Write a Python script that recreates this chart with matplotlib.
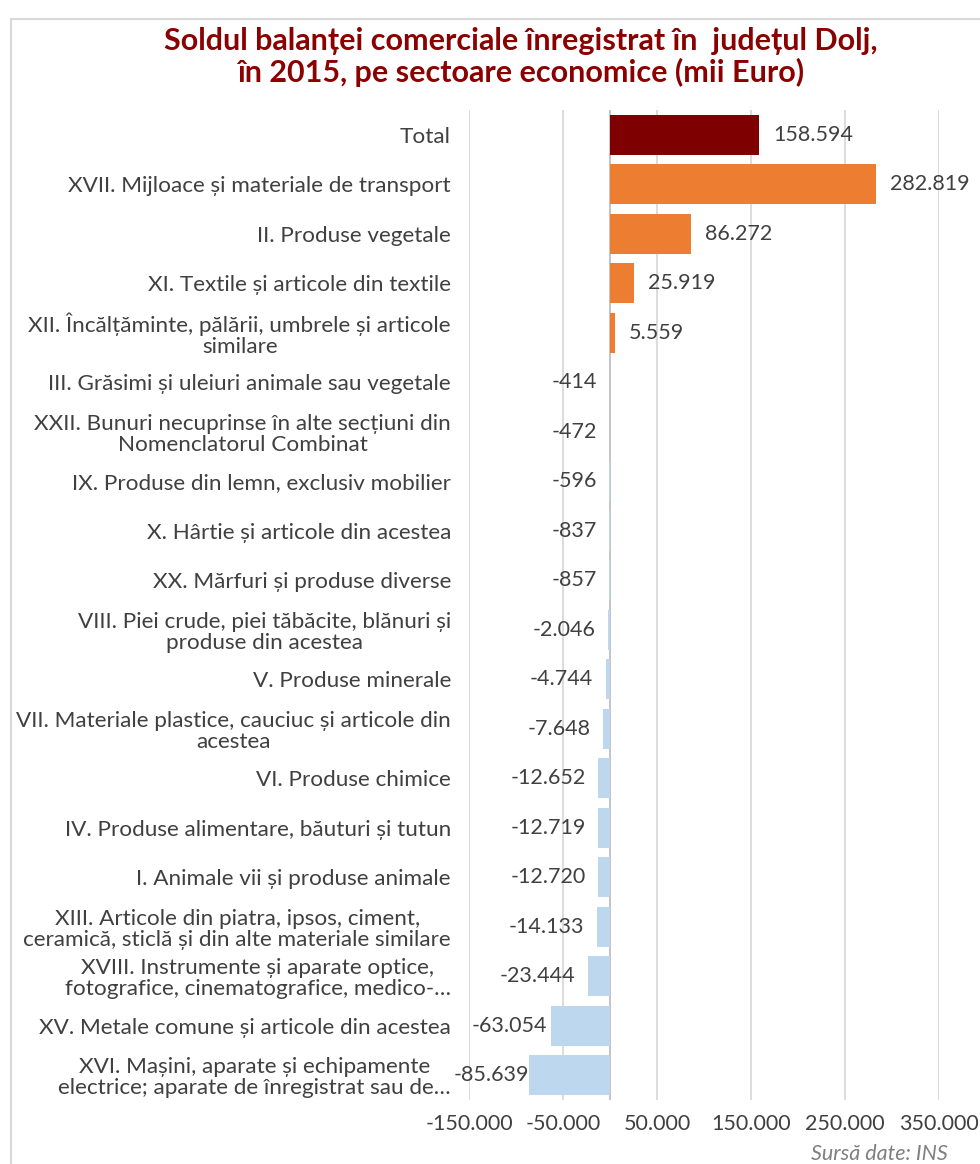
import matplotlib
matplotlib.use("Agg")
import matplotlib.pyplot as plt
from matplotlib.ticker import FuncFormatter, FixedLocator
from matplotlib.patches import Rectangle

plt.rcParams['font.family'] = ['Lato', 'DejaVu Sans']

categories = [
    "Total",
    "XVII. Mijloace și materiale de transport",
    "II. Produse vegetale",
    "XI. Textile și articole din textile",
    "XII. Încălțăminte, pălării, umbrele și articole\nsimilare",
    "III. Grăsimi și uleiuri animale sau vegetale",
    "XXII. Bunuri necuprinse în alte secțiuni din\nNomenclatorul Combinat",
    "IX. Produse din lemn, exclusiv mobilier",
    "X. Hârtie și articole din acestea",
    "XX. Mărfuri și produse diverse",
    "VIII. Piei crude, piei tăbăcite, blănuri și\nproduse din acestea",
    "V. Produse minerale",
    "VII. Materiale plastice, cauciuc și articole din\nacestea",
    "VI. Produse chimice",
    "IV. Produse alimentare, băuturi și tutun",
    "I. Animale vii și produse animale",
    "XIII. Articole din piatra, ipsos, ciment,\nceramică, sticlă și din alte materiale similare",
    "XVIII. Instrumente și aparate optice,\nfotografice, cinematografice, medico-…",
    "XV. Metale comune și articole din acestea",
    "XVI. Mașini, aparate și echipamente\nelectrice; aparate de înregistrat sau de…",
]
values = [158594, 282819, 86272, 25919, 5559, -414, -472, -596, -837, -857,
          -2046, -4744, -7648, -12652, -12719, -12720, -14133, -23444, -63054, -85639]
x_ticks = [-150000, -50000, 50000, 150000, 250000, 350000]

title = "Soldul balanței comerciale înregistrat în  județul Dolj,\nîn 2015, pe sectoare economice (mii Euro)"
source = "Sursă date: INS"

C_TOTAL = "#7F0000"
C_POS = "#ED7D31"
C_NEG = "#BDD7EE"
TXT = "#404040"
FS = 15.5

def fmt(v, pos=None):
    s = f"{abs(int(round(v))):,}".replace(",", ".")
    return ("-" if v < 0 else "") + s

W, H = 980, 1164
fig = plt.figure(figsize=(W / 100, H / 100), dpi=100)
fig.patch.set_facecolor("white")
ax = fig.add_axes([469 / W, 1 - 1100 / H, (939 - 469) / W, (1100 - 110) / H])

colors = [C_TOTAL if i == 0 else (C_POS if v >= 0 else C_NEG) for i, v in enumerate(values)]
ypos = list(range(len(values)))
ax.barh(ypos, values, height=0.8, color=colors, zorder=3)

ax.set_xlim(-150000, 350000)
ax.set_ylim(len(values) - 0.5, -0.5)
ax.xaxis.set_major_locator(FixedLocator(x_ticks))
ax.xaxis.set_major_formatter(FuncFormatter(fmt))
ax.grid(axis="x", color="#D9D9D9", linewidth=1.3, zorder=0)
ax.axvline(0, color="#BFBFBF", linewidth=1.3, zorder=2)
for s in ax.spines.values():
    s.set_visible(False)
ax.set_yticks(ypos)
ax.set_yticklabels(categories)
ax.tick_params(axis="y", length=0, pad=13, labelsize=16.2, labelcolor=TXT)
ax.tick_params(axis="x", length=0, pad=10, labelsize=FS, labelcolor=TXT)
for lab in ax.get_yticklabels():
    lab.set_multialignment("center")
    lab.set_linespacing(1.05)

fig.canvas.draw()
renderer = fig.canvas.get_renderer()
for y, v in zip(ypos, values):
    if v >= 0:
        ax.annotate(fmt(v), (v, y), xytext=(10, 0), textcoords="offset points",
                    ha="left", va="center", fontsize=FS, color=TXT, zorder=4)
    else:
        off = -9
        t = ax.annotate(fmt(v), (v, y), xytext=(off, 0), textcoords="offset points",
                        ha="right", va="center", fontsize=FS, color=TXT, zorder=4)
        bb = t.get_window_extent(renderer)
        if bb.x0 < 472:
            shift = (472 - bb.x0) * 72 / 100
            new_off = min(off + shift, 0)
            t.xyann = (new_off, 0)

fig.text(521 / W, 1 - 57 / H, title, ha="center", va="center", fontsize=22,
         fontweight="bold", color="#8B0000", linespacing=1.12)
fig.text(948 / W, 1 - 1154 / H, source, ha="right", va="center", fontsize=15.5,
         style="italic", color="#7F7F7F")

fig.patches.append(Rectangle((11 / W, -0.1), 1.2, 1 - 19 / H + 0.1, transform=fig.transFigure,
                             fill=False, edgecolor="#D9D9D9", linewidth=1.5))

fig.savefig("out.png", dpi=100, facecolor="white")
